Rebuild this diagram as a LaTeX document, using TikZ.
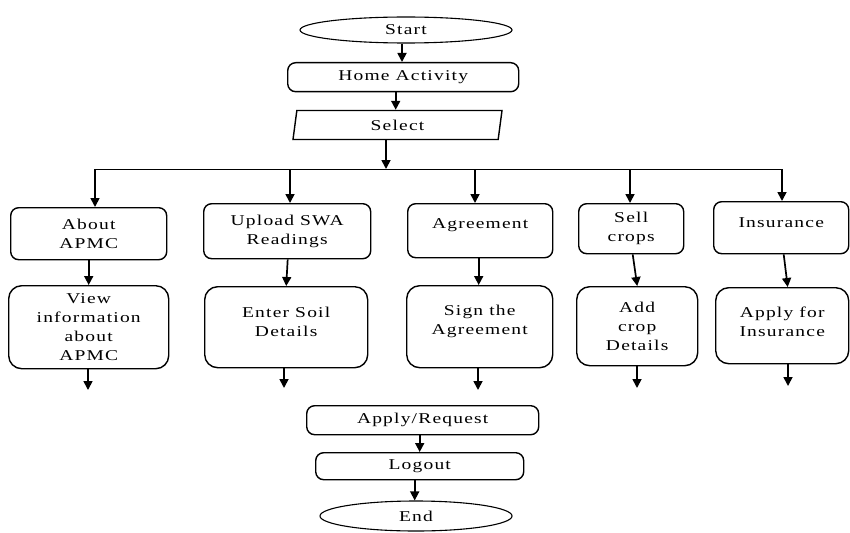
\documentclass[tikz,border=0pt]{standalone}
\usepackage{fontspec}
\setmainfont{Liberation Serif}[FakeStretch=1.3,LetterSpace=8]
\usetikzlibrary{shapes.geometric,arrows.meta}

\tikzset{
  box/.style={draw, line width=1.4pt, rounded corners=8pt, inner sep=0pt,
              align=center, anchor=north west},
  bigbox/.style={box, rounded corners=13pt},
  oval/.style={draw, ellipse, line width=1.1pt, inner sep=0pt},
  arr/.style={line width=1.7pt, -{Triangle[length=9pt,width=9pt]}},
  bus/.style={line width=0.9pt}
}

\begin{document}
\begin{tikzpicture}[x=1pt, y=-1pt,
  every node/.append style={font=\fontsize{15}{19}\selectfont}]
\useasboundingbox[fill=white] (0,0) rectangle (850,532);

% top of the chart
\node[oval, minimum width=212pt, minimum height=26pt] (start) at (406,30) {Start};
\node[box, minimum width=231pt, minimum height=29pt] (home) at (287,62) {Home Activity};
\node[draw, line width=1.4pt, trapezium, trapezium left angle=70, trapezium right angle=110,
      trapezium stretches body, minimum width=209pt, minimum height=29pt, inner sep=0pt]
      (sel) at (397.5,125) {Select};

% branch line
\coordinate (d1) at (95,169);
\coordinate (d2) at (290,169);
\coordinate (d3) at (475,169);
\coordinate (d4) at (630,169);
\coordinate (d5) at (782,169);

% upper row
\node[box, minimum width=156pt, minimum height=52pt] (about) at (10,207) {About\\APMC};
\node[box, minimum width=167pt, minimum height=55pt] (upl) at (203,203) {Upload SWA\\Readings};
\node[box, minimum width=145pt, minimum height=54pt,
      label={[yshift=6pt]center:Agreement}] (agr) at (407,203) {};
\node[box, minimum width=105pt, minimum height=50pt] (sell) at (578,203) {Sell\\crops};
\node[box, minimum width=135pt, minimum height=52pt,
      label={[yshift=5pt]center:Insurance}] (ins) at (713,201) {};

% lower row
\node[bigbox, minimum width=160pt, minimum height=83pt] (view) at (8,285)
      {View\\information\\about\\APMC};
\node[bigbox, minimum width=163pt, minimum height=81pt,
      label={[yshift=5pt,align=center]center:Enter Soil\\Details}] (soil) at (204,286) {};
\node[bigbox, minimum width=146pt, minimum height=82pt,
      label={[yshift=5pt,align=center]center:Sign the\\Agreement}] (sign) at (406,285) {};
\node[bigbox, minimum width=121pt, minimum height=79pt] (crop) at (576,286)
      {Add\\crop\\Details};
\node[bigbox, minimum width=133pt, minimum height=76pt,
      label={[yshift=4pt,align=center]center:Apply for\\Insurance}] (apl) at (715,287) {};

% bottom of the chart
\node[box, minimum width=232pt, minimum height=29pt] (req) at (306,405) {Apply/Request};
\node[box, minimum width=208pt, minimum height=27pt] (out) at (315,452) {Logout};
\node[oval, minimum width=192pt, minimum height=30pt] (end) at (416,516) {End};

% free ends below the lower row
\coordinate (e1) at (88,390);
\coordinate (e2) at (284,388);
\coordinate (e3) at (478,390);
\coordinate (e4) at (637,388);
\coordinate (e5) at (788,386);

% connectors
\draw[arr] ([xshift=-4pt]start.south) -- ([xshift=-4pt]start.south |- home.north);
\draw[arr] ([xshift=-7.5pt]home.south) -- ([xshift=-7.5pt]home.south |- sel.north);
\draw[arr] ([xshift=-11.5pt]sel.south) -- ([xshift=-11.5pt]sel.south |- d1);
\draw[bus] (d1) -- (d5);
\draw[arr] (d1) -- (d1 |- about.north);
\draw[arr] (d2) -- (d2 |- upl.north);
\draw[arr] (d3) -- (d3 |- agr.north);
\draw[arr] (d4) -- (d4 |- sell.north);
\draw[arr] (d5) -- (d5 |- ins.north);

\draw[arr] (about.south) -- (view.north);
\draw[arr] ([xshift=0.5pt]upl.south) -- (soil.north);
\draw[arr] ([xshift=-1.5pt]agr.south) -- ([xshift=-1.5pt]agr.south |- sign.north);
\draw[arr] ([xshift=1.5pt]sell.south) -- (crop.north);
\draw[arr] ([xshift=2.5pt]ins.south) -- ([xshift=5.5pt]apl.north);

\draw[arr] (e1 |- view.south) -- (e1);
\draw[arr] (e2 |- soil.south) -- (e2);
\draw[arr] (e3 |- sign.south) -- (e3);
\draw[arr] (e4 |- crop.south) -- (e4);
\draw[arr] (e5 |- apl.south) -- (e5);

\draw[arr] ([xshift=-3pt]req.south) -- ([xshift=-3pt]req.south |- out.north);
\draw[arr] ([xshift=-5pt]out.south) -- ([xshift=-5pt]out.south |- end.north);
\end{tikzpicture}
\end{document}
